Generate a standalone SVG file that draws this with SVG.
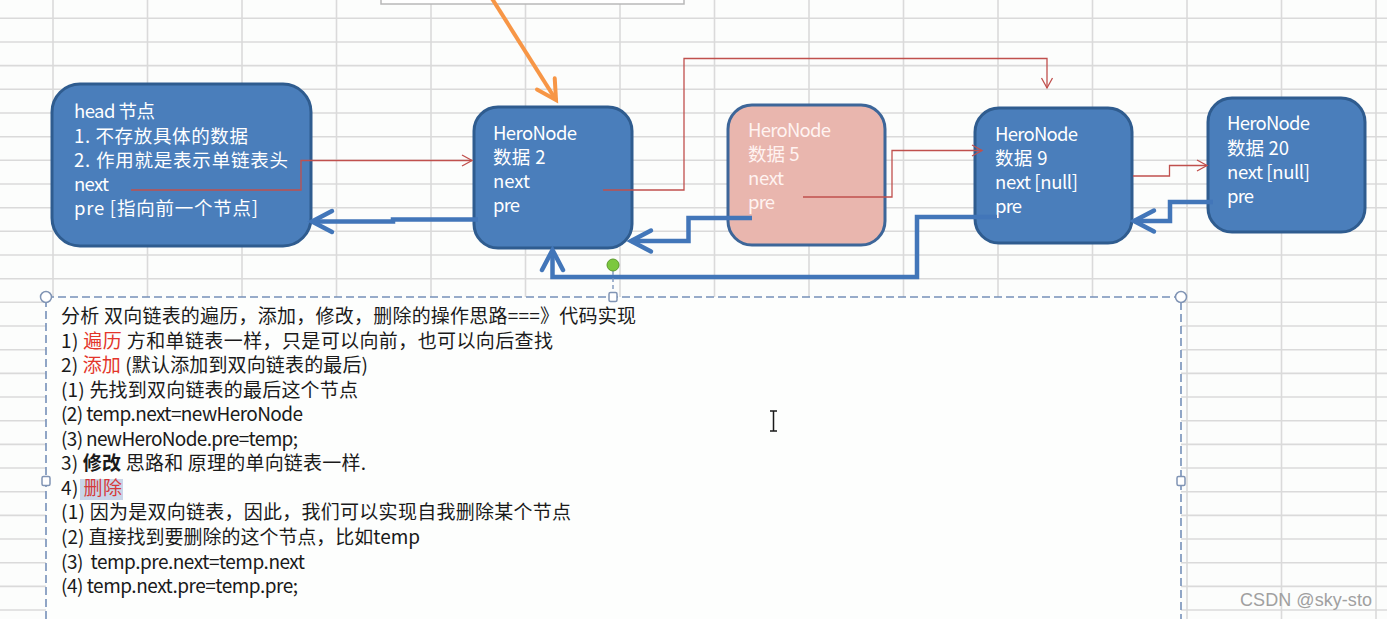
<svg xmlns="http://www.w3.org/2000/svg" width="1387" height="619" viewBox="0 0 1387 619">
<style>
  .grid { fill: none; stroke: #dadada; stroke-width: 1.6; }
  .node { fill: #4a7ebb; stroke: #2f5c8f; stroke-width: 3; }
  .pink { fill: #e9b6ae; stroke: #3d6699; stroke-width: 3; }
  .nt { font-family: "Noto Sans CJK SC", sans-serif; font-size: 18.5px; fill: #ffffff; }
  .pt { font-family: "Noto Sans CJK SC", sans-serif; font-size: 18.5px; fill: #fff3f1; }
  .bt { font-family: "Noto Sans CJK SC", sans-serif; font-size: 19px; fill: #1a1a1a; }
  .red { fill: #e3352a; }
  .redc { fill: none; stroke: #c0504d; stroke-width: 1.3; }
  .bluec { fill: none; stroke: #4276b9; stroke-width: 4.5; stroke-linejoin: miter; }
  .orange { fill: none; stroke: #f79646; stroke-width: 4; }
  .handle { fill: #ffffff; stroke: #8094b4; stroke-width: 1.5; }
</style>
<defs>
  <marker id="arrRed" viewBox="0 0 12 12" refX="11" refY="6" markerWidth="12" markerHeight="12" markerUnits="userSpaceOnUse" orient="auto" overflow="visible">
    <path d="M1,0.5 L11,6 L1,11.5" fill="none" stroke="#c0504d" stroke-width="1.3"/>
  </marker>
  <marker id="arrBlue" viewBox="0 0 24 24" refX="22" refY="12" markerWidth="24" markerHeight="24" markerUnits="userSpaceOnUse" orient="auto" overflow="visible">
    <path d="M2,1.5 L22,12 L2,22.5" fill="none" stroke="#4276b9" stroke-width="4.5" stroke-linecap="round"/>
  </marker>
  <marker id="arrOrange" viewBox="0 0 24 24" refX="22" refY="12" markerWidth="24" markerHeight="24" markerUnits="userSpaceOnUse" orient="auto" overflow="visible">
    <path d="M3,1.5 L22,12 L3,22.5" fill="none" stroke="#f79646" stroke-width="4" stroke-linecap="round"/>
  </marker>
</defs>

<!-- background & spreadsheet grid -->
<rect x="0" y="0" width="1387" height="619" fill="#fcfdfc"/>
<path class="grid" d="M53,0V619 M147.5,0V619 M242,0V619 M336.5,0V619 M431,0V619 M525.5,0V619 M620,0V619 M714.5,0V619 M809,0V619 M903.5,0V619 M998,0V619 M1092.5,0V619 M1187,0V619 M1281.5,0V619 M1376,0V619
 M0,18.3H1387 M0,42H1387 M0,65.6H1387 M0,89.3H1387 M0,113H1387 M0,136.7H1387 M0,160.3H1387 M0,184H1387 M0,207.7H1387 M0,231.3H1387 M0,255H1387 M0,278.7H1387 M0,302.3H1387 M0,326H1387 M0,349.7H1387 M0,373.4H1387 M0,397H1387 M0,420.7H1387 M0,444.4H1387 M0,468H1387 M0,491.7H1387 M0,515.4H1387 M0,539H1387 M0,562.7H1387 M0,586.4H1387 M0,610H1387"/>

<!-- partial box at top -->
<rect x="381" y="-6" width="303" height="10" fill="#ffffff" stroke="#b8b8b8" stroke-width="1.5"/>

<!-- nodes -->
<g id="head">
  <rect class="node" x="52" y="84" width="259" height="162" rx="28"/>
  <text class="nt" x="74" y="118" textLength="81" lengthAdjust="spacing">head 节点</text>
  <text class="nt" x="74" y="142.5" textLength="174" lengthAdjust="spacing">1. 不存放具体的数据</text>
  <text class="nt" x="74" y="166.8" textLength="214" lengthAdjust="spacing">2. 作用就是表示单链表头</text>
  <text class="nt" x="74" y="191" textLength="35" lengthAdjust="spacing">next</text>
  <text class="nt" x="74" y="215" textLength="184" lengthAdjust="spacing">pre [指向前一个节点]</text>
</g>
<g id="node2">
  <rect class="node" x="474" y="107" width="158" height="141" rx="24"/>
  <text class="nt" x="493" y="139.5" textLength="84" lengthAdjust="spacing">HeroNode</text>
  <text class="nt" x="493" y="163.8" textLength="52.5" lengthAdjust="spacing">数据 2</text>
  <text class="nt" x="493" y="188.2" textLength="37" lengthAdjust="spacing">next</text>
  <text class="nt" x="493" y="211.7" textLength="27" lengthAdjust="spacing">pre</text>
</g>
<g id="node5">
  <rect class="pink" x="728" y="105" width="157" height="140" rx="24"/>
  <text class="pt" x="748" y="136.7" textLength="83" lengthAdjust="spacing">HeroNode</text>
  <text class="pt" x="748" y="161" textLength="51.5" lengthAdjust="spacing">数据 5</text>
  <text class="pt" x="748" y="185" textLength="36" lengthAdjust="spacing">next</text>
  <text class="pt" x="748" y="208.5" textLength="27" lengthAdjust="spacing">pre</text>
</g>
<g id="node9">
  <rect class="node" x="975" y="108" width="157" height="135" rx="24"/>
  <text class="nt" x="995" y="140.5" textLength="83" lengthAdjust="spacing">HeroNode</text>
  <text class="nt" x="995" y="164.8" textLength="52.5" lengthAdjust="spacing">数据 9</text>
  <text class="nt" x="995" y="189" textLength="83" lengthAdjust="spacing">next [null]</text>
  <text class="nt" x="995" y="212.5" textLength="27" lengthAdjust="spacing">pre</text>
</g>
<g id="node20">
  <rect class="node" x="1208" y="98" width="157" height="134" rx="24"/>
  <text class="nt" x="1227" y="130" textLength="83" lengthAdjust="spacing">HeroNode</text>
  <text class="nt" x="1227" y="154.5" textLength="62" lengthAdjust="spacing">数据 20</text>
  <text class="nt" x="1227" y="178.8" textLength="83" lengthAdjust="spacing">next [null]</text>
  <text class="nt" x="1227" y="202.5" textLength="27" lengthAdjust="spacing">pre</text>
</g>

<!-- connectors -->
<g id="connectors">
  <path class="orange" d="M491,-3 L556,100" marker-end="url(#arrOrange)"/>
  <path class="redc" d="M131,190 H301 V160.5 H472" marker-end="url(#arrRed)"/>
  <path class="redc" d="M603,190 H684 V58.5 H1047 V88" marker-end="url(#arrRed)"/>
  <path class="redc" d="M803,197 H892 V150.5 H982" marker-end="url(#arrRed)"/>
  <path class="redc" d="M1133,176 H1169.5 V165.5 H1207" marker-end="url(#arrRed)"/>
  <path class="bluec" d="M478,219.5 H393 V221.5 H312" marker-end="url(#arrBlue)"/>
  <path class="bluec" d="M752,218 H688.5 V241 H631" marker-end="url(#arrBlue)"/>
  <path class="bluec" d="M997,217 H917 V277 H552.5 V250" marker-end="url(#arrBlue)"/>
  <path class="bluec" d="M1213,202 H1170 V221 H1134" marker-end="url(#arrBlue)"/>
</g>

<!-- selected text box -->
<g id="textbox">
  <rect x="46" y="297" width="1135" height="340" fill="#fdfefd" stroke="#7590b8" stroke-width="1.6" stroke-dasharray="8 4"/>
  <line x1="613" y1="271" x2="613" y2="293" stroke="#7590b8" stroke-width="1.3" stroke-dasharray="4 3"/>
  <circle cx="613" cy="265" r="6" fill="#7cc83e" stroke="#5b9a2c" stroke-width="1"/>
  <circle class="handle" cx="46" cy="297" r="5.5"/>
  <circle class="handle" cx="1181" cy="297" r="5.5"/>
  <rect class="handle" x="609" y="292.5" width="8" height="9" rx="1.5"/>
  <rect class="handle" x="42" y="476.5" width="8" height="9" rx="1.5"/>
  <rect class="handle" x="1177" y="476.5" width="8" height="9" rx="1.5"/>
  <rect x="80" y="479" width="43" height="21" fill="#c9d5e8"/>

  <text class="bt" x="61" y="323" textLength="575" lengthAdjust="spacing">分析 双向链表的遍历，添加，修改，删除的操作思路===》代码实现</text>
  <text class="bt" x="61" y="347.6" textLength="492" lengthAdjust="spacing">1) <tspan class="red">遍历</tspan> 方和单链表一样，只是可以向前，也可以向后查找</text>
  <text class="bt" x="61" y="372.1" textLength="307" lengthAdjust="spacing">2) <tspan class="red">添加</tspan> (默认添加到双向链表的最后)</text>
  <text class="bt" x="61" y="396.7" textLength="297" lengthAdjust="spacing">(1) 先找到双向链表的最后这个节点</text>
  <text class="bt" x="61" y="421.2" textLength="242" lengthAdjust="spacing">(2) temp.next=newHeroNode</text>
  <text class="bt" x="61" y="445.8" textLength="237" lengthAdjust="spacing">(3) newHeroNode.pre=temp;</text>
  <text class="bt" x="61" y="470.3" textLength="305" lengthAdjust="spacing">3) <tspan font-weight="bold">修改</tspan> 思路和 原理的单向链表一样.</text>
  <text class="bt" x="61" y="494.9" textLength="61" lengthAdjust="spacing">4) <tspan fill="#d63a3a">删除</tspan></text>
  <text class="bt" x="61" y="519.4" textLength="510" lengthAdjust="spacing">(1) 因为是双向链表，因此，我们可以实现自我删除某个节点</text>
  <text class="bt" x="61" y="544" textLength="359" lengthAdjust="spacing">(2) 直接找到要删除的这个节点，比如temp</text>
  <text class="bt" x="61" y="568.5" textLength="244" lengthAdjust="spacing">(3)&#160; temp.pre.next=temp.next</text>
  <text class="bt" x="61" y="593" textLength="237" lengthAdjust="spacing">(4) temp.next.pre=temp.pre;</text>

  <path d="M770,411 H777 M773.5,411 V431 M770,431 H777" fill="none" stroke="#1a1a1a" stroke-width="1.5"/>
</g>

<text x="1240" y="606" font-family="'Liberation Sans', Arial, sans-serif" font-size="18" fill="#a0a0a0" textLength="132" lengthAdjust="spacing">CSDN @sky-sto</text>
</svg>
